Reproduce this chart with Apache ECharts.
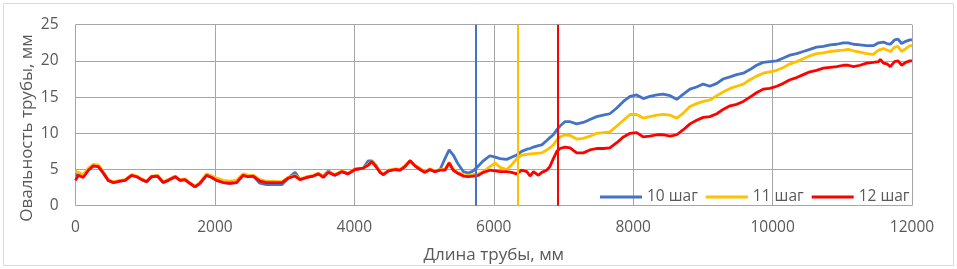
<!DOCTYPE html>
<html><head><meta charset="utf-8">
<script src="https://cdn.jsdelivr.net/npm/echarts@6/dist/echarts.min.js"></script>
<style>html,body{margin:0;padding:0;background:#fff}#c{width:957px;height:269px}</style>
</head><body><div id="c"></div>
<script>
// Длина трубы, мм
const lengthMm = [0,40,110,185,255,330,400,470,540,640,710,805,880,950,1020,1090,1175,1260,1330,1430,1500,1570,1640,1715,1785,1880,1955,2025,2120,2215,2310,2405,2480,2550,2645,2740,2840,2960,3050,3150,3220,3315,3410,3485,3555,3625,3720,3820,3910,4010,4130,4200,4250,4310,4370,4415,4490,4585,4655,4725,4800,4870,4945,5010,5085,5155,5230,5300,5360,5420,5480,5565,5635,5705,5780,5850,5945,6020,6090,6185,6255,6330,6400,6475,6520,6570,6640,6690,6760,6805,6855,6905,6950,7020,7095,7190,7285,7380,7475,7570,7665,7765,7860,7955,8050,8145,8240,8340,8430,8530,8625,8720,8815,8910,9005,9100,9200,9290,9390,9485,9580,9675,9770,9865,9960,10060,10155,10250,10345,10440,10535,10630,10730,10825,10920,11015,11085,11160,11255,11350,11445,11520,11545,11590,11640,11690,11750,11800,11850,11910,11970,12000];
const step10 = [4.3,4.3,4.0,5.0,5.5,5.4,4.5,3.5,3.2,3.4,3.5,4.2,4.0,3.6,3.3,4.0,4.1,3.2,3.5,4.0,3.5,3.6,3.1,2.6,3.1,4.2,3.9,3.5,3.2,3.1,3.2,4.2,4.0,4.1,3.1,2.9,2.9,2.9,3.8,4.6,3.6,3.9,4.1,4.4,4.1,4.8,4.2,4.7,4.4,5.0,5.2,6.2,6.2,5.6,4.6,4.3,4.8,5.0,4.9,5.4,6.2,5.5,5.0,4.6,5.0,4.7,5.0,6.5,7.7,7.0,5.9,4.7,4.5,4.8,5.5,6.2,6.9,6.7,6.5,6.4,6.7,7.0,7.5,7.8,7.9,8.1,8.3,8.4,9.0,9.4,9.8,10.5,11.0,11.6,11.6,11.3,11.5,11.9,12.3,12.5,12.7,13.5,14.4,15.1,15.3,14.8,15.1,15.3,15.4,15.2,14.7,15.4,16.1,16.4,16.8,16.5,16.9,17.5,17.8,18.1,18.3,18.8,19.4,19.8,19.9,20.0,20.4,20.8,21.0,21.3,21.6,21.9,22.0,22.2,22.3,22.5,22.5,22.3,22.2,22.1,22.1,22.5,22.6,22.6,22.4,22.3,22.9,23.0,22.4,22.7,22.9,22.9];
const step11 = [4.8,4.6,4.3,5.2,5.7,5.6,4.6,3.6,3.3,3.5,3.6,4.3,4.1,3.7,3.4,4.1,4.2,3.3,3.6,4.1,3.6,3.7,3.2,2.7,3.2,4.4,4.1,3.8,3.5,3.4,3.5,4.4,4.2,4.2,3.6,3.4,3.4,3.3,3.9,4.2,3.7,4.0,4.2,4.5,4.0,4.7,4.3,4.8,4.5,5.1,5.2,5.7,6.1,5.5,4.7,4.4,4.9,5.1,5.0,5.5,6.2,5.6,5.1,4.7,5.1,4.8,5.0,5.0,6.0,5.0,4.6,4.3,4.2,4.3,4.4,4.7,5.4,5.9,5.3,5.0,5.6,6.5,7.0,7.1,7.15,7.2,7.25,7.3,7.7,8.0,8.4,9.1,9.5,9.8,9.7,9.2,9.3,9.6,10.0,10.1,10.2,11.0,11.8,12.6,12.6,12.1,12.3,12.5,12.6,12.5,12.1,12.8,13.7,14.1,14.4,14.6,15.2,15.7,16.2,16.5,16.8,17.4,17.9,18.3,18.5,18.7,19.1,19.6,19.9,20.3,20.7,21.0,21.1,21.3,21.4,21.5,21.6,21.4,21.2,21.0,20.9,21.5,21.6,21.7,21.5,21.3,21.9,22.0,21.3,21.7,22.1,22.1];
const step12 = [3.5,4.2,3.9,4.9,5.5,5.4,4.5,3.5,3.2,3.4,3.5,4.2,4.0,3.6,3.3,4.0,4.1,3.2,3.5,4.0,3.5,3.6,3.1,2.6,3.1,4.2,3.9,3.5,3.2,3.1,3.2,4.2,4.0,4.1,3.4,3.2,3.2,3.2,3.8,4.1,3.6,3.9,4.1,4.4,3.9,4.6,4.2,4.7,4.4,5.0,5.2,5.6,6.1,5.4,4.6,4.3,4.8,5.0,4.9,5.4,6.2,5.5,5.0,4.6,5.0,4.7,4.9,4.9,5.9,4.9,4.5,4.1,4.0,4.1,4.2,4.6,4.9,4.8,4.7,4.7,4.6,4.4,4.9,4.7,4.1,4.7,4.2,4.6,4.9,5.4,6.5,7.5,7.9,8.1,8.0,7.3,7.3,7.7,7.9,7.9,8.0,8.7,9.5,10.0,10.1,9.5,9.6,9.8,9.8,9.6,9.8,10.5,11.3,11.8,12.2,12.3,12.7,13.3,13.8,14.0,14.4,15.0,15.6,16.1,16.2,16.5,16.9,17.4,17.7,18.1,18.5,18.7,19.0,19.1,19.2,19.4,19.4,19.2,19.4,19.7,19.8,19.9,20.2,19.7,19.6,19.2,19.9,20.0,19.4,19.8,20.0,20.0];
const seriesNames = ['10 шаг','11 шаг','12 шаг'];
const markerX = [5745, 6338, 6917];
const xTicks = [0,2000,4000,6000,8000,10000,12000];
const yTicks = [0,5,10,15,20,25];
const yTitle = 'Овальность трубы, мм';
const xTitle = 'Длина трубы, мм';

const colors = ['#4472C4','#FFC000','#FF0000'];
const vals = [step10, step11, step12];
const FONT = 'Open Sans';
const chart = echarts.init(document.getElementById('c'), null, {renderer:'canvas'});
chart.setOption({
  animation:false,
  backgroundColor:'#fff',
  textStyle:{fontFamily:FONT},
  graphic:[
    {type:'rect',shape:{x:3.5,y:3.5,width:950,height:262},style:{fill:'none',stroke:'#d9d9d9',lineWidth:1},silent:true},
    {type:'text',x:27,y:128,rotation:Math.PI/2,silent:true,
     style:{text:yTitle,fontFamily:FONT,fontSize:17,fill:'#595959',align:'center',verticalAlign:'middle'}}
  ],
  grid:{left:75.5,right:45,top:24.7,bottom:63.3,containLabel:false,outerBoundsMode:'none'},
  legend:{
    left:595, top:184, itemWidth:42, itemHeight:3, itemGap:8, icon:'rect',
    textStyle:{fontFamily:FONT,fontSize:15.5,color:'#595959'},
    data:seriesNames
  },
  xAxis:{
    type:'value', min:xTicks[0], max:xTicks[xTicks.length-1], interval:2000,
    name:xTitle, nameLocation:'middle', nameGap:41,
    nameTextStyle:{fontFamily:FONT,fontSize:17,color:'#595959'},
    axisLine:{show:false}, axisTick:{show:false},
    axisLabel:{fontFamily:FONT,fontSize:15.5,color:'#595959',margin:14,formatter:v=>String(v)},
    splitLine:{show:true,lineStyle:{color:'#a6a6a6',width:1}}
  },
  yAxis:{
    type:'value', min:yTicks[0], max:yTicks[yTicks.length-1], interval:5,
    axisLine:{show:false}, axisTick:{show:false},
    axisLabel:{fontFamily:FONT,fontSize:15.5,color:'#595959',margin:17,formatter:v=>String(v)},
    splitLine:{show:true,lineStyle:{color:'#a6a6a6',width:1}}
  },
  series: seriesNames.map((n,i)=>({
    name:n, type:'line', showSymbol:false, symbol:'none',
    data: lengthMm.map((x,j)=>[x, vals[i][j]]),
    lineStyle:{color:colors[i],width:2.8},
    itemStyle:{color:colors[i]},
    markLine:{silent:true,symbol:'none',label:{show:false},
      lineStyle:{color:colors[i],width:2,type:'solid'},
      data:[{xAxis:markerX[i]}]}
  }))
});
</script></body></html>
